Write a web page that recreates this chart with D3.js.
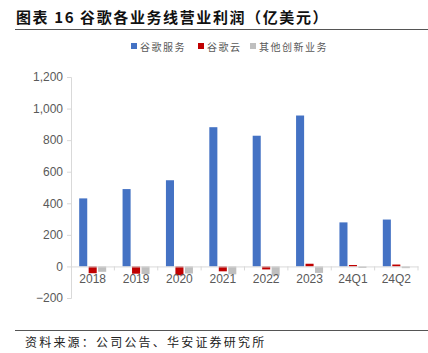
<!DOCTYPE html>
<html>
<head>
<meta charset="utf-8">
<script src="https://cdn.jsdelivr.net/npm/d3@7"></script>
<style>
  body { margin: 0; background: #fff; }
  text { font-family: "Noto Sans CJK SC", "Liberation Sans", sans-serif; }
  .num text { font-family: "Liberation Sans", Arial, sans-serif; }
</style>
</head>
<body>
<svg width="428" height="353"></svg>
<script>
const categories = ['2018', '2019', '2020', '2021', '2022', '2023', '24Q1', '24Q2'];
const services = [431, 490, 546, 882, 828, 956, 279, 297];
const cloud = [-43, -46, -56, -31, -19, 17, 9, 12];
const otherBets = [-34, -48, -45, -50, -58, -41, -10, -11];
const seriesNames = ['谷歌服务', '谷歌云', '其他创新业务'];
const colors = ['#4472C4', '#C00000', '#BFBFBF'];
const yTicks = [-200, 0, 200, 400, 600, 800, 1000, 1200];

const svg = d3.select('svg');

// title + rules
svg.append('text')
    .attr('x', 16).attr('y', 23)
    .attr('font-size', 15).attr('font-weight', 'bold').attr('fill', '#111')
    .attr('letter-spacing', 1.6)
    .text('图表 16  谷歌各业务线营业利润（亿美元）');
svg.append('line').attr('x1', 15).attr('x2', 428).attr('y1', 29.5).attr('y2', 29.5)
    .attr('stroke', '#555').attr('stroke-width', 1.2);
svg.append('line').attr('x1', 15).attr('x2', 428).attr('y1', 330.5).attr('y2', 330.5)
    .attr('stroke', '#555').attr('stroke-width', 1.2);
svg.append('text')
    .attr('x', 25).attr('y', 347)
    .attr('font-size', 12).attr('fill', '#222').attr('letter-spacing', 2.2)
    .text('资料来源：公司公告、华安证券研究所');

const x = d3.scaleBand().domain(categories).range([71, 418]);
const y = d3.scaleLinear().domain([-200, 1200]).range([298, 77]);
const sub = d3.scaleBand().domain(seriesNames).range([-13.5, 13.5]).paddingInner(0.15);

const data = [services, cloud, otherBets];

// y axis
const yAxis = svg.append('g').attr('class', 'num').attr('transform', 'translate(71,0)')
    .call(d3.axisLeft(y).tickValues(yTicks).tickSize(4).tickFormat(d3.format(',')));
yAxis.select('.domain').attr('stroke', '#D9D9D9');
yAxis.selectAll('.tick line').attr('stroke', '#D9D9D9');
yAxis.selectAll('.tick text').attr('fill', '#595959').attr('font-size', 12).attr('x', -8);

// bars
data.forEach((vals, si) => {
  svg.append('g').selectAll('rect')
    .data(vals)
    .enter().append('rect')
      .attr('x', (d, i) => x(categories[i]) + x.bandwidth() / 2 + sub(seriesNames[si]))
      .attr('width', sub.bandwidth())
      .attr('y', d => y(Math.max(0, d)))
      .attr('height', d => Math.abs(y(d) - y(0)))
      .attr('fill', colors[si]);
});

// x axis
const xAxis = svg.append('g').attr('class', 'num').attr('transform', `translate(0,${y(0)})`)
    .call(d3.axisBottom(x).tickSize(0).tickPadding(8));
xAxis.select('.domain').attr('stroke', '#D9D9D9');
xAxis.selectAll('.tick text').attr('fill', '#595959').attr('font-size', 12);
xAxis.selectAll('.sep')
    .data(categories.slice(1).concat(['end']))
    .enter().append('line')
      .attr('x1', (d, i) => x.range()[0] + (i + 1) * x.step())
      .attr('x2', (d, i) => x.range()[0] + (i + 1) * x.step())
      .attr('y1', 0).attr('y2', 4)
      .attr('stroke', '#D9D9D9');

// legend
const legend = svg.append('g');
const legendX = [131, 198, 250];
seriesNames.forEach((name, i) => {
  legend.append('rect').attr('x', legendX[i]).attr('y', 43).attr('width', 6).attr('height', 6)
      .attr('fill', colors[i]);
  legend.append('text').attr('x', legendX[i] + 9).attr('y', 50.5)
      .attr('font-size', 10).attr('fill', '#595959').attr('letter-spacing', 1.5)
      .text(name);
});
</script>
</body>
</html>
